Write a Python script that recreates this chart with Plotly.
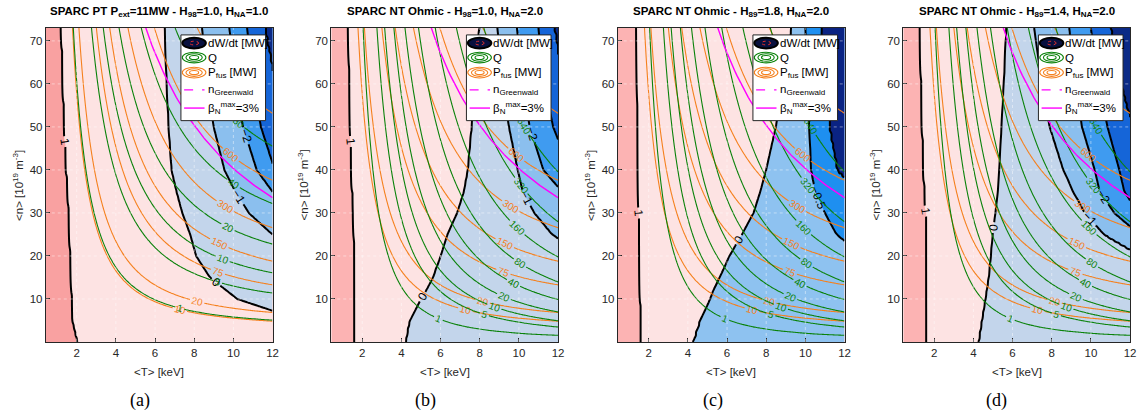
import numpy as np
import plotly.graph_objects as go

W, H = 1146, 414

# ---------------- axes ----------------
T_RANGE = [0.42, 12.0]
N_RANGE = [0.0, 73.0]
X_TICKS = [2, 4, 6, 8, 10, 12]
Y_TICKS = [10, 20, 30, 40, 50, 60, 70]

TITLES = [
    "SPARC PT P<sub>ext</sub>=11MW - H<sub>98</sub>=1.0, H<sub>NA</sub>=1.0",
    "SPARC NT Ohmic - H<sub>98</sub>=1.0, H<sub>NA</sub>=2.0",
    "SPARC NT Ohmic - H<sub>89</sub>=1.8, H<sub>NA</sub>=2.0",
    "SPARC NT Ohmic - H<sub>89</sub>=1.4, H<sub>NA</sub>=2.0",
]
CAPTIONS = ["(a)", "(b)", "(c)", "(d)"]
LEGEND_LABELS = ["dW/dt [MW]", "Q", "P<sub>fus</sub> [MW]",
                 "n<sub>Greenwald</sub>", "β<sub>N</sub><sup>max</sup>=3%"]

# ---------------- contour levels ----------------
PFUS_LEVELS = [10, 20, 75, 150, 300, 600, 1200]
Q_LEVELS = [
    [1, 5, 10, 20, 40, 80],
    [1, 5, 10, 20, 40, 80, 160, 320, 640],
    [1, 5, 10, 20, 40, 80, 160, 320, 640],
    [1, 5, 10, 20, 40, 80, 160, 320, 640],
]
DW_LEVELS = [
    [1, 0, -1, -2, -3, -4],
    [1, 0, -1, -2, -3, -4],
    [1, 0, -0.5, -1],
    [1, 0, -1, -2, -3, -4],
]

# ---------------- values ----------------
PFUS_REF = 600.0           # MW at <T>=10.8 keV, <n>=40.5e19
PFUS_REF_T = 10.8
PFUS_REF_N = 40.5
T_PEAKING = 1.7            # effective (peaked) temperature factor
P_EXT_A = 11.0             # MW auxiliary power in panel (a)
P_OHM_REF = 4.0            # MW ohmic power at T = 5.16 keV (panels b-d)
P_OHM_REF_T = 5.16
P_OHM_EXP = 1.6
BETA_NT = 403.0            # <n><T> along the beta_N = 3% limit

# dW/dt contour crossings: temperature [keV] of each level at these densities
DW_N = [0, 5, 10, 15, 20, 25, 30, 35, 40, 50, 60, 73]
DW_T = [
    [  # (a)  levels 1, 0, -1, -2, -3, -4
        [2.05, 1.80, 1.76, 1.72, 1.68, 1.64, 1.60, 1.55, 1.48, 1.38, 1.30, 1.22],
        [16.0, 13.5, 10.2, 8.8, 8.1, 7.8, 7.4, 7.1, 6.85, 6.7, 6.6, 6.5],
        [30, 25, 19, 16, 14, 12, 10.8, 10.1, 9.55, 9.0, 8.7, 8.4],
        [40, 32, 25, 20, 17, 15, 13, 12.0, 11.2, 10.5, 10.1, 9.8],
        [50, 40, 32, 26, 21, 17, 14.5, 13.0, 12.1, 11.4, 11.0, 10.7],
        [60, 50, 40, 32, 26, 21, 17.5, 15.5, 14.0, 12.8, 12.1, 11.6],
    ],
    [  # (b)  levels 1, 0, -1, -2, -3, -4
        [1.63, 1.63, 1.62, 1.61, 1.60, 1.58, 1.56, 1.50, 1.45, 1.40, 1.35, 1.30],
        [4.2, 4.4, 5.0, 5.6, 6.0, 6.35, 6.85, 7.2, 7.4, 7.6, 7.8, 8.0],
        [30, 25, 20, 16, 13.5, 11.7, 10.8, 10.2, 9.95, 9.5, 9.2, 8.9],
        [45, 35, 27, 22, 18, 15.5, 13.5, 12.2, 11.25, 10.55, 10.2, 9.9],
        [50, 40, 32, 26, 21, 18, 15.5, 13.8, 12.6, 11.75, 11.3, 11.0],
        [60, 50, 40, 32, 26, 22, 19, 16.5, 14.5, 13.0, 12.2, 11.8],
    ],
    [  # (c)  levels 1, 0, -0.5, -1
        [1.60, 1.60, 1.58, 1.56, 1.54, 1.52, 1.50, 1.48, 1.46, 1.43, 1.41, 1.39],
        [4.25, 4.6, 5.1, 5.6, 6.1, 6.75, 7.35, 7.7, 8.0, 8.5, 8.9, 9.3],
        [30, 25, 19, 15.5, 13.0, 11.6, 11.0, 10.5, 10.3, 10.2, 10.1, 10.0],
        [40, 32, 25, 20, 17, 15, 13.5, 12.5, 11.6, 11.2, 11.0, 10.8],
    ],
    [  # (d)  levels 1, 0, -1, -2, -3, -4
        [1.63, 1.63, 1.62, 1.61, 1.60, 1.59, 1.59, 1.52, 1.47, 1.40, 1.34, 1.29],
        [4.25, 4.42, 4.6, 4.77, 4.88, 4.98, 5.12, 5.25, 5.32, 5.44, 5.56, 5.69],
        [26, 21, 17.5, 15, 12.6, 10.7, 9.7, 9.1, 8.6, 7.9, 7.5, 7.1],
        [32, 26, 21, 17.5, 14.5, 12.5, 11.2, 10.45, 10.2, 9.55, 9.2, 8.9],
        [35, 28, 23, 18.5, 15.5, 13.5, 12.4, 11.7, 11.45, 10.85, 10.4, 10.0],
        [38, 32, 25, 20, 17, 15, 14.5, 13.5, 13.0, 12.1, 11.5, 11.0],
    ],
]

# band fill colours, from the highest dW/dt band (left) to the lowest (right)
DW_COLORS = [
    ["#F9A1A1", "#FDE3E3", "#C3D5EB", "#8BBFEE", "#3F9BF0", "#1565D8", "#0B2A86"],
    ["#FCB3B3", "#FDE3E3", "#C3D5EB", "#8BBFEE", "#3F9BF0", "#1565D8", "#0B2A86"],
    ["#FCB3B3", "#FDE3E3", "#8EC2F0", "#1E8FF0", "#0A2383"],
    ["#FCB3B3", "#FDE3E3", "#C3D5EB", "#8BBFEE", "#3F9BF0", "#1565D8", "#0B2A86"],
]

ORANGE = "#F5801E"
GREEN = "#0A820A"
MAGENTA = "#FF00FF"
AX_COLOR = "#262626"
FONT = "Liberation Sans"

# ---------------- layout geometry (pixels) ----------------
PLOT_LEFT = [46, 333, 621, 908]
PLOT_W = 228
PLOT_TOP, PLOT_BOTTOM = 28, 342
CAPTION_X = [141, 428, 717, 1002]

# ---------------- grids / fields ----------------
T = np.linspace(T_RANGE[0], T_RANGE[1], 140)
N = np.linspace(N_RANGE[0], N_RANGE[1], 96)
TT, NN = np.meshgrid(T, N)


def dt_reactivity(t):
    """Bosch-Hale D-T reactivity (arbitrary units)."""
    bg, mrc2 = 34.3827, 1124656.0
    c1, c2, c3, c4, c5, c6, c7 = (1.17302e-9, 1.51361e-2, 7.51886e-2, 4.60643e-3,
                                  1.35e-2, -1.0675e-4, 1.366e-5)
    theta = t / (1 - t * (c2 + t * (c4 + t * c6)) / (1 + t * (c3 + t * (c5 + t * c7))))
    xi = (bg ** 2 / (4 * theta)) ** (1 / 3)
    return c1 * theta * np.sqrt(xi / (mrc2 * t ** 3)) * np.exp(-3 * xi)


PFUS = (PFUS_REF * (NN / PFUS_REF_N) ** 2 * dt_reactivity(T_PEAKING * TT)
        / dt_reactivity(T_PEAKING * PFUS_REF_T))
P_OHM = P_OHM_REF * (P_OHM_REF_T / TT) ** P_OHM_EXP
Q_FIELDS = [PFUS / P_EXT_A, PFUS / P_OHM, PFUS / P_OHM, PFUS / P_OHM]


def dw_fields(table, levels):
    """Return (band index field, dW/dt value field) from the crossing table."""
    m = len(levels)
    idx = np.empty_like(TT)
    val = np.empty_like(TT)
    for j, n in enumerate(N):
        xs = [-50.0] + [float(np.interp(n, DW_N, row)) for row in table] + [500.0]
        idx[j, :] = np.interp(T, xs, [-1.0] + list(range(m)) + [float(m)])
        val[j, :] = np.interp(T, xs, [levels[0] + 1.0] + list(levels) + [levels[-1] - 1.0])
    return idx, val


fig = go.Figure()
annotations = []
shapes = []
layout_axes = {}

for k in range(4):
    sfx = "" if k == 0 else str(k + 1)
    xa, ya = "x" + sfx, "y" + sfx
    x0 = PLOT_LEFT[k] / W
    x1 = (PLOT_LEFT[k] + PLOT_W) / W
    y0 = 1 - PLOT_BOTTOM / H
    y1 = 1 - PLOT_TOP / H

    levels = DW_LEVELS[k]
    m = len(levels)
    idx, val = dw_fields(DW_T[k], levels)
    cols = DW_COLORS[k]
    # filled bands
    fig.add_trace(go.Contour(
        x=T, y=N, z=idx.astype(np.float32), autocontour=False,
        contours=dict(start=0, end=m - 1, size=1, coloring="fill", showlines=False),
        colorscale=[[i / m, c] for i, c in enumerate(cols)],
        line=dict(width=0), showscale=False, hoverinfo="skip", xaxis=xa, yaxis=ya))
    # black dW/dt lines with labels
    for L in levels:
        fig.add_trace(go.Contour(
            x=T, y=N, z=val.astype(np.float32), autocontour=False,
            contours=dict(start=L, end=L + 0.5, size=1, coloring="none", showlabels=True,
                          labelfont=dict(family=FONT, size=12, color="black")),
            line=dict(color="black", width=2), showscale=False, hoverinfo="skip",
            xaxis=xa, yaxis=ya))

    for L in PFUS_LEVELS:
        fig.add_trace(go.Contour(
            x=T, y=N, z=PFUS.astype(np.float32), autocontour=False,
            contours=dict(start=L, end=L + 0.5, size=1, coloring="none", showlabels=True,
                          labelfont=dict(family=FONT, size=10, color=ORANGE)),
            line=dict(color=ORANGE, width=1.1), showscale=False, hoverinfo="skip",
            xaxis=xa, yaxis=ya))

    for L in Q_LEVELS[k]:
        fig.add_trace(go.Contour(
            x=T, y=N, z=Q_FIELDS[k].astype(np.float32), autocontour=False,
            contours=dict(start=L, end=L + 0.5, size=1, coloring="none", showlabels=True,
                          labelfont=dict(family=FONT, size=10, color=GREEN)),
            line=dict(color=GREEN, width=1.1), showscale=False, hoverinfo="skip",
            xaxis=xa, yaxis=ya))

    tb = T[T > BETA_NT / N_RANGE[1] - 0.2]
    fig.add_trace(go.Scatter(x=tb, y=BETA_NT / tb, mode="lines",
                             line=dict(color=MAGENTA, width=1.4),
                             hoverinfo="skip", showlegend=False, xaxis=xa, yaxis=ya))

    axis_common = dict(showline=True, mirror=True, linecolor=AX_COLOR, linewidth=1,
                       ticks="inside", ticklen=4, tickcolor=AX_COLOR, showgrid=False,
                       zeroline=False, tickfont=dict(family=FONT, size=11.5, color=AX_COLOR))
    layout_axes["xaxis" + sfx] = dict(domain=[x0, x1], range=T_RANGE, tickvals=X_TICKS,
                                      anchor=ya, **axis_common)
    layout_axes["yaxis" + sfx] = dict(domain=[y0, y1], range=N_RANGE, tickvals=Y_TICKS,
                                      anchor=xa, **axis_common)

    for xv in X_TICKS[:-1]:
        shapes.append(dict(type="line", xref=xa, yref=ya + " domain", x0=xv, x1=xv, y0=0, y1=1,
                           line=dict(color="rgba(255,255,255,0.45)", width=1, dash="dot")))
    for yv in Y_TICKS:
        shapes.append(dict(type="line", xref=xa + " domain", yref=ya, x0=0, x1=1, y0=yv, y1=yv,
                           line=dict(color="rgba(255,255,255,0.45)", width=1, dash="dot")))

    # ---- custom legend ----
    xd, yd = xa + " domain", ya + " domain"
    shapes.append(dict(type="rect", xref=xd, yref=yd, x0=0.596, x1=0.969, y0=0.705, y1=0.978,
                       fillcolor="white", line=dict(color=AX_COLOR, width=1)))
    cx = 0.654
    rows = [0.952, 0.906, 0.858, 0.803, 0.745]
    shapes.append(dict(type="circle", xref=xd, yref=yd, x0=cx - 0.052, x1=cx + 0.052,
                       y0=rows[0] - 0.017, y1=rows[0] + 0.017, fillcolor="#08103E",
                       line=dict(color="black", width=2)))
    shapes.append(dict(type="circle", xref=xd, yref=yd, x0=cx - 0.02, x1=cx + 0.02,
                       y0=rows[0] - 0.006, y1=rows[0] + 0.006, fillcolor="#08103E",
                       line=dict(color="#E03030", width=1, dash="dot")))
    for r, c in ((rows[1], GREEN), (rows[2], ORANGE)):
        for sx, sy in ((0.052, 0.017), (0.036, 0.012), (0.02, 0.0065)):
            shapes.append(dict(type="circle", xref=xd, yref=yd, x0=cx - sx, x1=cx + sx,
                               y0=r - sy, y1=r + sy, line=dict(color=c, width=1.1)))
    shapes.append(dict(type="line", xref=xd, yref=yd, x0=0.61, x1=0.70, y0=rows[3], y1=rows[3],
                       line=dict(color=MAGENTA, width=1.4, dash="dash")))
    shapes.append(dict(type="line", xref=xd, yref=yd, x0=0.61, x1=0.70, y0=rows[4], y1=rows[4],
                       line=dict(color=MAGENTA, width=1.4)))
    for r, txt in zip(rows, LEGEND_LABELS):
        annotations.append(dict(xref=xd, yref=yd, x=0.705, y=r, text=txt, showarrow=False,
                                xanchor="left", yanchor="middle",
                                font=dict(family=FONT, size=11.5, color="black")))

    xc = (x0 + x1) / 2
    annotations.append(dict(xref="paper", yref="paper", x=xc, y=1 - 12 / H,
                            text="<b>" + TITLES[k] + "</b>", showarrow=False,
                            xanchor="center", yanchor="middle",
                            font=dict(family=FONT, size=11.5, color="black")))
    annotations.append(dict(xref="paper", yref="paper", x=xc, y=1 - 372 / H,
                            text="&lt;T&gt; [keV]", showarrow=False,
                            xanchor="center", yanchor="middle",
                            font=dict(family=FONT, size=11.5, color=AX_COLOR)))
    annotations.append(dict(xref="paper", yref="paper", x=(PLOT_LEFT[k] - 28) / W,
                            y=(y0 + y1) / 2, text="&lt;n&gt; [10<sup>19</sup> m<sup>-3</sup>]",
                            textangle=-90, showarrow=False, xanchor="center", yanchor="middle",
                            font=dict(family=FONT, size=11.5, color=AX_COLOR)))
    annotations.append(dict(xref="paper", yref="paper", x=CAPTION_X[k] / W, y=1 - 400 / H,
                            text=CAPTIONS[k], showarrow=False, xanchor="center",
                            yanchor="middle",
                            font=dict(family="Liberation Serif", size=18, color="black")))

fig.update_layout(
    width=W, height=H, margin=dict(l=0, r=0, t=0, b=0),
    paper_bgcolor="white", plot_bgcolor="white", showlegend=False,
    annotations=annotations, shapes=shapes, **layout_axes)

fig.write_html("out.html")
